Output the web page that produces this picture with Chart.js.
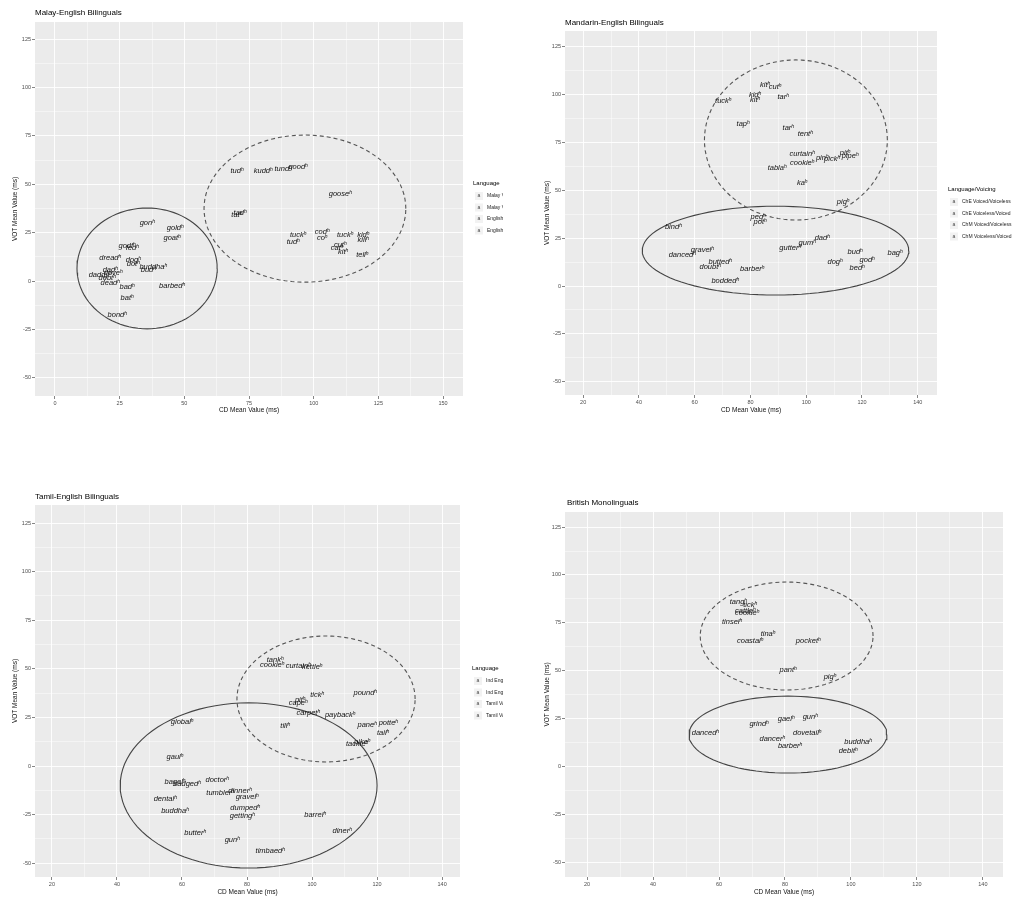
<!DOCTYPE html>
<html><head><meta charset="utf-8">
<script src="https://cdn.jsdelivr.net/npm/chart.js@4/dist/chart.umd.min.js"></script>
<style>
html,body{margin:0;padding:0;background:#fff;}
body{width:1015px;height:897px;position:relative;overflow:hidden;}
canvas{position:absolute;}
</style></head><body>
<canvas id="c1" width="503" height="420" style="left:0;top:0;width:503px;height:420px"></canvas>
<canvas id="c2" width="515" height="420" style="left:500px;top:0;width:515px;height:420px"></canvas>
<canvas id="c3" width="503" height="457" style="left:0;top:440px;width:503px;height:457px"></canvas>
<canvas id="c4" width="495" height="457" style="left:520px;top:440px;width:495px;height:457px"></canvas>
<script>
// ---------- DATA ----------
const titles = ["Malay-English Bilinguals","Mandarin-English Bilinguals","Tamil-English Bilinguals","British Monolinguals"];
const xAxisTitle = "CD Mean Value (ms)";
const yAxisTitle = "VOT Mean Value (ms)";
const yTicksMajor = [-50,-25,0,25,50,75,100,125];

// Panel 1: Malay-English
const p1DashWords = ["tudʰ","kuddʰ","tundʰ","goodʰ","gooseʰ","tadʰ","tatʰ","tuckʰ","tudʰ","codʰ","coʰ","tuckʰ","kidʰ","killʰ","cutʰ","catʰ","kitʰ","tellʰ"];
const p1DashX = [70.3,80.4,88.1,93.9,110.2,71.5,70.2,93.9,92.0,103.2,103.2,112.1,119.1,119.1,110.2,109.0,111.3,118.7];
const p1DashY = [56.8,56.8,57.8,58.9,44.9,35.1,34.0,23.8,20.1,25.3,22.2,23.8,23.8,21.2,18.6,17.0,15.0,13.4];
const p1SolWords = ["gonʰ","goldʰ","goatʰ","godfʰ","fedʰ","dreadʰ","dogʰ","dotʰ","buddhaʰ","budʰ","dadʰ","daddyʰ","doveʰ","debtʰ","deadʰ","badʰ","batʰ","barbedʰ","bondʰ"];
const p1SolX = [35.6,46.4,45.2,27.8,29.8,21.3,30.2,30.2,37.9,36.0,21.3,17.4,22.4,20.1,21.3,27.8,27.8,45.2,24.0];
const p1SolY = [30.0,27.4,22.2,18.0,17.0,11.9,10.8,8.8,7.2,5.7,5.7,3.1,4.1,1.5,-1.0,-3.1,-8.8,-2.6,-17.6];

// Panel 2: Mandarin-English
const p2DashWords = ["tuckʰ","kidʰ","kitʰ","kitʰ","cutʰ","tarʰ","tapʰ","tarʰ","tentʰ","curtainʰ","cookieʰ","tablaʰ","pinʰ","pickʰ","pitʰ","pipeʰ","kaʰ","pigʰ","pegʰ","potʰ"];
const p2DashX = [70.2,81.6,81.6,85.2,88.8,91.7,77.3,93.5,99.6,98.5,98.5,89.5,105.7,109.2,113.9,115.7,98.5,113.2,82.7,83.4];
const p2DashY = [96.7,99.8,97.2,105.0,104.0,98.7,84.6,82.5,79.4,69.0,64.3,61.7,66.9,66.4,69.5,67.9,53.8,43.9,36.0,33.4];
const p2SolWords = ["bindʰ","dancedʰ","gravelʰ","buttedʰ","doubtʰ","boddedʰ","barberʰ","gutterʰ","gumʰ","dadʰ","dogʰ","budʰ","bedʰ","godʰ","bagʰ"];
const p2SolX = [52.3,55.5,62.7,69.1,65.5,70.9,80.6,94.2,100.3,105.7,110.3,117.5,118.2,121.8,131.8];
const p2SolY = [30.8,16.2,18.8,12.5,9.9,2.6,8.9,19.9,22.5,25.1,12.5,17.8,9.4,13.6,17.2];

// Panel 3: Tamil-English
const p3DashWords = ["tankʰ","cookieʰ","curtainʰ","kettleʰ","pitʰ","capeʰ","tickʰ","poundʰ","carpetʰ","paybackʰ","tillʰ","paneʰ","potteʰ","tailʰ","tackleʰ","pikeʰ"];
const p3DashX = [88.6,87.7,95.7,100.0,96.3,95.7,101.5,116.3,98.8,108.6,91.7,116.9,123.4,121.8,113.8,115.4];
const p3DashY = [54.6,52.0,51.5,51.0,34.0,32.4,36.5,37.6,27.3,26.2,20.6,21.1,22.1,17.0,11.3,12.4];
const p3SolWords = ["globalʰ","gaulʰ","bagelʰ","badgedʰ","doctorʰ","dentalʰ","tumblerʰ","dinnerʰ","gravelʰ","buddhaʰ","dumpedʰ","gettingʰ","barrelʰ","butterʰ","gunʰ","dinerʰ","timbaedʰ"];
const p3SolX = [60.0,57.8,57.8,61.5,70.8,54.8,71.7,77.8,80.0,57.8,79.4,78.5,100.9,64.0,75.4,109.2,87.1];
const p3SolY = [22.6,4.6,-8.2,-9.3,-7.2,-17.0,-13.9,-12.9,-16.0,-23.2,-21.6,-25.7,-25.2,-34.5,-38.1,-33.5,-43.7];

// Panel 4: British Monolinguals
const p4DashWords = ["tangʰ","tickʰ","cattleʰ","cookieʰ","tinselʰ","tinaʰ","coastalʰ","pocketʰ","pantʰ","pigʰ"];
const p4DashX = [65.8,69.4,67.9,68.5,63.9,74.8,69.4,87.0,80.9,93.6];
const p4DashY = [85.8,84.3,81.1,80.1,75.4,69.1,65.5,65.5,50.3,46.7];
const p4SolWords = ["grindʰ","gaelʰ","gunʰ","dancedʰ","dovetailʰ","dancerʰ","barberʰ","buddhaʰ","debitʰ"];
const p4SolX = [72.1,80.3,87.6,55.8,86.7,76.1,81.5,102.1,99.1];
const p4SolY = [22.1,24.7,25.8,17.4,17.4,14.3,10.6,12.7,8.0];

// Ellipse parameters: [centre x, centre y, radius x, radius y]
const p1DashEllipse = [96.6,37.4,39.0,38.0];
const p1SolEllipse = [35.6,6.5,27.1,31.2];
const p2DashEllipse = [96.3,76.3,32.8,41.8];
const p2SolEllipse = [89.0,18.5,47.8,23.2];
const p3DashEllipse = [104.3,34.5,27.4,32.4];
const p3SolEllipse = [80.5,-10.0,39.5,42.5];
const p4DashEllipse = [80.5,68.1,26.2,28.2];
const p4SolEllipse = [80.9,16.6,30.0,20.1];

// Legends
const legendTitles = ["Language","Language/Voicing","Language",""];
const p1LegendItems = ["Malay Voiced","Malay Voiceless","English Voiced","English Voiceless"];
const p2LegendItems = ["ChE Voiced/Voiceless","ChE Voiceless/Voiced","ChM Voiced/Voiceless","ChM Voiceless/Voiced"];
const p3LegendItems = ["Ind English Voiced","Ind English Voiceless","Tamil Voiced","Tamil Voiceless"];
const p4LegendItems = [];

// ---------- HELPERS ----------
const FONT = "'Liberation Sans', Arial, sans-serif";
function pts(xs, ys){ return xs.map((x,i)=>({x:x,y:ys[i]})); }
function ellipse(p){
  const out=[]; const n=96;
  for(let i=0;i<=n;i++){ const t=2*Math.PI*i/n; out.push({x:p[0]+p[2]*Math.cos(t), y:p[1]+p[3]*Math.sin(t)}); }
  return out;
}
function isMul(v, m){ return Math.abs(v/m - Math.round(v/m)) < 1e-6; }

const bgPlugin = {
  id:'bg',
  beforeDraw(chart){
    const {ctx, chartArea:a} = chart;
    ctx.save(); ctx.fillStyle='#EBEBEB'; ctx.fillRect(a.left,a.top,a.right-a.left,a.bottom-a.top); ctx.restore();
  }
};
const textPlugin = {
  id:'wordLabels',
  afterDatasetsDraw(chart){
    const ctx = chart.ctx;
    ctx.save();
    ctx.font = "italic 7.5px " + FONT;
    ctx.fillStyle = '#111';
    ctx.textAlign='center'; ctx.textBaseline='middle';
    chart.data.datasets.forEach((ds, di)=>{
      if(!ds.words) return;
      const meta = chart.getDatasetMeta(di);
      meta.data.forEach((el,i)=>{ ctx.fillText(ds.words[i], el.x, el.y); });
    });
    ctx.restore();
  }
};
const decoPlugin = {
  id:'deco',
  afterDraw(chart, args, o){
    const ctx = chart.ctx;
    ctx.save();
    ctx.fillStyle='#000'; ctx.textBaseline='middle'; ctx.textAlign='left';
    ctx.font = "8px " + FONT;
    ctx.fillText(o.title, o.tx, o.ty);
    if(o.legendTitle){
      ctx.font = "6px " + FONT;
      ctx.fillText(o.legendTitle, o.lx, o.ly);
      o.items.forEach((it,i)=>{
        const y = o.ly + 13 + i*11.5;
        ctx.fillStyle='#F2F2F2'; ctx.fillRect(o.lx+2, y-4, 8, 8);
        ctx.fillStyle='#444'; ctx.font="5px "+FONT; ctx.textAlign='center';
        ctx.fillText('a', o.lx+6, y);
        ctx.textAlign='left'; ctx.fillStyle='#222'; ctx.font="5px "+FONT;
        ctx.fillText(it, o.lx+14, y);
      });
    }
    ctx.restore();
  }
};

function makeChart(id, cfg){
  const xStep = cfg.xStep, xMaj = cfg.xMaj;
  const tickFont = {size:5.5, family:FONT};
  const gridW = (m)=>(c)=> (c.tick && isMul(c.tick.value, m)) ? 0.9 : 0.45;
  const tickC = (m)=>(c)=> (c.tick && isMul(c.tick.value, m)) ? '#333' : 'rgba(0,0,0,0)';
  return new Chart(document.getElementById(id), {
    type:'scatter',
    data:{ datasets:[
      {data:pts(cfg.dx,cfg.dy), words:cfg.dw, pointRadius:0, showLine:false},
      {data:pts(cfg.sx,cfg.sy), words:cfg.sw, pointRadius:0, showLine:false},
      {data:ellipse(cfg.de), showLine:true, pointRadius:0, borderColor:'#555', borderWidth:1.1, borderDash:[4,3], fill:false, tension:0},
      {data:ellipse(cfg.se), showLine:true, pointRadius:0, borderColor:'#444', borderWidth:1.1, fill:false, tension:0}
    ]},
    options:{
      responsive:false, animation:false, events:[],
      layout:{padding:cfg.pad},
      plugins:{legend:{display:false}, tooltip:{enabled:false}, title:{display:false},
        deco:{title:cfg.title, tx:cfg.tx, ty:cfg.ty, legendTitle:cfg.legendTitle, items:cfg.items, lx:cfg.lx, ly:cfg.ly}},
      scales:{
        x:{type:'linear', min:cfg.xmin, max:cfg.xmax,
          afterFit:(s)=>{s.height=cfg.xh;},
          border:{display:false},
          grid:{color:'#FFFFFF', lineWidth:gridW(xMaj), tickLength:3, tickColor:tickC(xMaj), tickWidth:0.6},
          ticks:{stepSize:xStep, includeBounds:false, autoSkip:false, maxRotation:0, padding:1, font:tickFont, color:'#4D4D4D', maxTicksLimit:100,
            callback:(v)=> isMul(v,xMaj) ? String(v) : ''},
          title:{display:true, text:xAxisTitle, font:{size:6.5,family:FONT}, color:'#111', padding:{top:0,bottom:cfg.xtp}}
        },
        y:{type:'linear', min:cfg.ymin, max:cfg.ymax,
          afterFit:(s)=>{s.width=cfg.yw;},
          border:{display:false},
          grid:{color:'#FFFFFF', lineWidth:gridW(25), tickLength:3, tickColor:tickC(25), tickWidth:0.6},
          ticks:{stepSize:12.5, includeBounds:false, autoSkip:false, padding:1, font:tickFont, color:'#4D4D4D', maxTicksLimit:100,
            callback:(v)=> isMul(v,25) && yTicksMajor.includes(v) ? String(v) : ''},
          title:{display:true, text:yAxisTitle, font:{size:6.5,family:FONT}, color:'#111', padding:{top:cfg.ytp,bottom:0}}
        }
      }
    },
    plugins:[bgPlugin, textPlugin, decoPlugin]
  });
}

makeChart('c1', {title:titles[0], tx:35, ty:13, legendTitle:legendTitles[0], items:p1LegendItems, lx:473, ly:183,
  dx:p1DashX, dy:p1DashY, dw:p1DashWords, sx:p1SolX, sy:p1SolY, sw:p1SolWords, de:p1DashEllipse, se:p1SolEllipse,
  xmin:-7.73, xmax:157.7, ymin:-59.4, ymax:133.8, xStep:12.5, xMaj:25,
  pad:{left:0, top:22, right:40, bottom:0}, xh:24, yw:35, xtp:5.4, ytp:11});

makeChart('c2', {title:titles[1], tx:65, ty:23, legendTitle:legendTitles[1], items:p2LegendItems, lx:448, ly:189,
  dx:p2DashX, dy:p2DashY, dw:p2DashWords, sx:p2SolX, sy:p2SolY, sw:p2SolWords, de:p2DashEllipse, se:p2SolEllipse,
  xmin:13.5, xmax:146.9, ymin:-56.9, ymax:133.2, xStep:10, xMaj:20,
  pad:{left:0, top:31, right:78, bottom:0}, xh:25, yw:65, xtp:5.4, ytp:43});

makeChart('c3', {title:titles[2], tx:35, ty:57, legendTitle:legendTitles[2], items:p3LegendItems, lx:472, ly:228,
  dx:p3DashX, dy:p3DashY, dw:p3DashWords, sx:p3SolX, sy:p3SolY, sw:p3SolWords, de:p3DashEllipse, se:p3SolEllipse,
  xmin:14.8, xmax:145.5, ymin:-57.1, ymax:134.3, xStep:10, xMaj:20,
  pad:{left:0, top:65, right:43, bottom:0}, xh:20, yw:35, xtp:0.4, ytp:11});

makeChart('c4', {title:titles[3], tx:47, ty:63, legendTitle:legendTitles[3], items:p4LegendItems, lx:492, ly:228,
  dx:p4DashX, dy:p4DashY, dw:p4DashWords, sx:p4SolX, sy:p4SolY, sw:p4SolWords, de:p4DashEllipse, se:p4SolEllipse,
  xmin:13.3, xmax:146.1, ymin:-57.8, ymax:132.9, xStep:10, xMaj:20,
  pad:{left:0, top:72, right:12, bottom:0}, xh:20, yw:45, xtp:0.4, ytp:23});
</script>
</body></html>
